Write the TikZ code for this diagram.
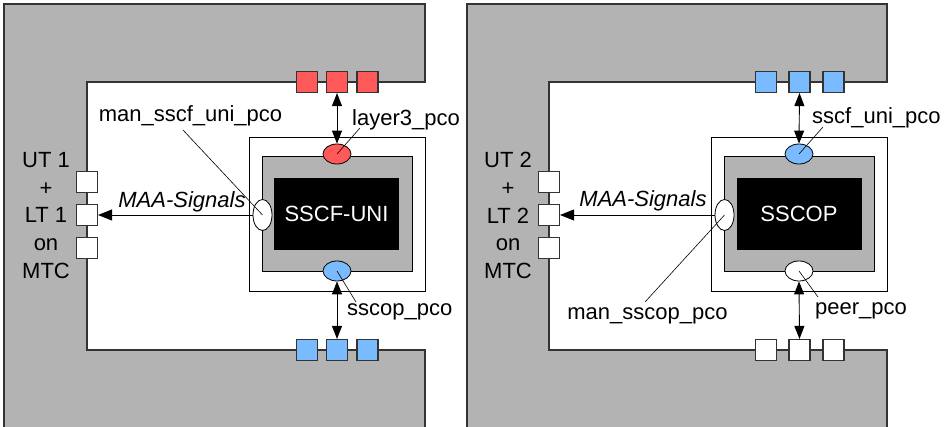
\documentclass[tikz,border=0pt]{standalone}
\usepackage{fontspec}
\setmainfont{Liberation Sans}
\usetikzlibrary{arrows.meta,shapes.geometric}
\definecolor{panelgray}{HTML}{B3B3B3}
\definecolor{pcored}{HTML}{FF5959}
\definecolor{pcoblue}{HTML}{7ABAFF}
\definecolor{edgec}{HTML}{333333}
\begin{document}
\begin{tikzpicture}[x=1pt,y=-1pt,
  wall/.style={fill=panelgray,draw=edgec,line width=1.4pt},
  port/.style={draw=edgec,line width=1.1pt,minimum size=21pt,inner sep=0pt},
  redport/.style={port,fill=pcored},
  blueport/.style={port,fill=pcoblue},
  whiteport/.style={port,fill=white},
  pco/.style={ellipse,draw=black,line width=0.8pt,minimum width=28pt,minimum height=20pt,inner sep=0pt},
  mpco/.style={ellipse,draw=black,line width=0.8pt,fill=white,minimum width=19pt,minimum height=31pt,inner sep=0pt},
  outerbox/.style={draw=black,line width=0.9pt,fill=white,minimum width=176pt,minimum height=154pt,inner sep=0pt},
  graybox/.style={draw=black,line width=0.9pt,fill=panelgray,minimum width=150pt,minimum height=115pt,inner sep=0pt},
  entity/.style={fill=black,text=white,minimum width=125pt,minimum height=72pt,inner sep=0pt,font=\fontsize{22}{26}\selectfont},
  lbl/.style={inner sep=0pt,font=\fontsize{22}{26}\selectfont},
  sidelbl/.style={inner sep=0pt,align=center,font=\fontsize{22}{27.8}\selectfont},
  leader/.style={draw=black,line width=0.6pt},
  sig/.style={draw=black,line width=0.9pt},
  both/.style={sig,{Triangle[length=13pt,width=10pt]}-{Triangle[length=13pt,width=10pt]}},
  toleft/.style={sig,-{Triangle[length=14pt,width=11pt]}}
]
\useasboundingbox (0,0) rectangle (945,427);
\fill[white] (0,0) rectangle (945,427);

% ---------------- left panel ----------------
\draw[wall] (4,428) -- (4,4) -- (425,4) -- (425,82) -- (87,82) -- (87,350) -- (425,350) -- (425,428);
\node[outerbox] (ob1) at (337,214) {};
\node[graybox] (gb1) at (337,213.5) {};
\node[entity] (en1) at (336.5,214) {SSCF-UNI};
\node[pco,fill=pcored] (up1) at (337,154) {};
\node[pco,fill=pcoblue] (dn1) at (337,271) {};
\node[mpco] (mp1) at (262.5,215) {};
\node[redport] (t1a) at (307,82) {};
\node[redport] (t1b) at (337,82) {};
\node[redport] (t1c) at (367.5,82) {};
\node[blueport] (b1a) at (307,350) {};
\node[blueport] (b1b) at (337,350) {};
\node[blueport] (b1c) at (367.5,350) {};
\node[whiteport] (l1a) at (87,182) {};
\node[whiteport] (l1b) at (87,215) {};
\node[whiteport] (l1c) at (87,248) {};
\draw[both] (t1b.south) -- (up1.north);
\draw[both] (dn1.south) -- (b1b.north);
\draw[toleft] (mp1.west) -- (l1b.east);
\node[lbl,font=\fontsize{22}{26}\selectfont\itshape,anchor=base] (maa1) at (182,208) {MAA-Signals};
\node[sidelbl] (side1) at (46,215.5) {UT 1\\+\\LT 1\\on\\MTC};
\node[lbl,anchor=base] (lm1) at (190.5,122) {man\_sscf\_uni\_pco};
\node[lbl,anchor=base west] (lu1) at (352,126) {layer3\_pco};
\node[lbl,anchor=base west] (ld1) at (347,315.5) {sscop\_pco};
\coordinate (lm1e) at (183,130);
\coordinate (lu1e) at (360,128);
\coordinate (ld1e) at (356,302);
\draw[leader] (lm1e) -- (mp1.center);
\draw[leader] (lu1e) -- (up1.center);
\draw[leader] (dn1.center) -- (ld1e);

% ---------------- right panel ----------------
\draw[wall] (467,428) -- (467,4) -- (887,4) -- (887,82) -- (549,82) -- (549,350) -- (887,350) -- (887,428);
\node[outerbox] (ob2) at (799,214) {};
\node[graybox] (gb2) at (799,213.5) {};
\node[entity] (en2) at (799,214) {SSCOP};
\node[pco,fill=pcoblue] (up2) at (799,154) {};
\node[pco,fill=white] (dn2) at (799,271) {};
\node[mpco] (mp2) at (724.5,215) {};
\node[blueport] (t2a) at (766,82) {};
\node[blueport] (t2b) at (799.5,82) {};
\node[blueport] (t2c) at (833.5,82) {};
\node[whiteport] (b2a) at (766,350) {};
\node[whiteport] (b2b) at (799.5,350) {};
\node[whiteport] (b2c) at (833.5,350) {};
\node[whiteport] (l2a) at (549,182) {};
\node[whiteport] (l2b) at (549,215) {};
\node[whiteport] (l2c) at (549,248) {};
\draw[both] (t2b.south) -- (up2.north);
\draw[both] (dn2.south) -- (b2b.north);
\draw[toleft] (mp2.west) -- (l2b.east);
\node[lbl,font=\fontsize{22}{26}\selectfont\itshape,anchor=base] (maa2) at (643,207) {MAA-Signals};
\node[sidelbl] (side2) at (508,215.5) {UT 2\\+\\LT 2\\on\\MTC};
\node[lbl,anchor=base] (lm2) at (647.5,320) {man\_sscop\_pco};
\node[lbl,anchor=base west] (lu2) at (812,124) {sscf\_uni\_pco};
\node[lbl,anchor=base west] (ld2) at (815,315) {peer\_pco};
\coordinate (lm2e) at (645,302);
\coordinate (lu2e) at (823,127);
\coordinate (ld2e) at (818,297);
\draw[leader] (lm2e) -- (mp2.center);
\draw[leader] (lu2e) -- (up2.center);
\draw[leader] (dn2.center) -- (ld2e);
\end{tikzpicture}
\end{document}
